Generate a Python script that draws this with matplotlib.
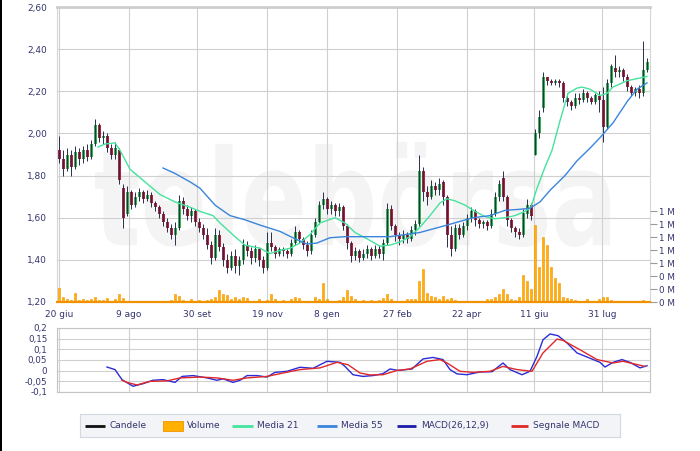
import numpy as np
import matplotlib.pyplot as plt
import matplotlib.transforms as mtransforms
from matplotlib.patches import Rectangle, PathPatch
from matplotlib.textpath import TextPath
from matplotlib.font_manager import FontProperties

# x axis is counted in trading days from 20 giu
tick_days = [0, 35, 69, 104, 134, 169, 204, 237.5, 271.5]
tick_labels = ['20 giu', '9 ago', '30 set', '19 nov', '8 gen', '27 feb', '22 apr', '11 giu', '31 lug']

# one candle every second trading day
opens = [1.92, 1.88, 1.83, 1.90, 1.84, 1.91, 1.88, 1.92, 1.89, 1.95,
         2.04, 1.98, 1.99, 1.93, 1.90, 1.92, 1.74, 1.62, 1.72, 1.66,
         1.70, 1.72, 1.69, 1.71, 1.67, 1.65, 1.62, 1.58, 1.55, 1.52,
         1.55, 1.68, 1.64, 1.61, 1.63, 1.58, 1.55, 1.52, 1.47, 1.41,
         1.52, 1.46, 1.40, 1.36, 1.42, 1.37, 1.40, 1.47, 1.44, 1.41,
         1.45, 1.40, 1.36, 1.48, 1.46, 1.43, 1.45, 1.44, 1.43, 1.48,
         1.53, 1.50, 1.47, 1.44, 1.52, 1.58, 1.66, 1.69, 1.64, 1.66,
         1.63, 1.65, 1.56, 1.48, 1.42, 1.44, 1.41, 1.43, 1.45, 1.42,
         1.45, 1.43, 1.48, 1.64, 1.56, 1.52, 1.50, 1.52, 1.50, 1.54,
         1.57, 1.82, 1.72, 1.70, 1.75, 1.73, 1.77, 1.70, 1.52, 1.45,
         1.55, 1.52, 1.56, 1.60, 1.63, 1.59, 1.57, 1.58, 1.56, 1.62,
         1.70, 1.79, 1.70, 1.59, 1.55, 1.53, 1.52, 1.62, 1.66, 1.90,
         2.00, 2.12, 2.27, 2.25, 2.24, 2.25, 2.24, 2.17, 2.15, 2.13,
         2.17, 2.16, 2.19, 2.17, 2.15, 2.18, 2.16, 2.03, 2.24, 2.31,
         2.29, 2.30, 2.27, 2.22, 2.19, 2.21, 2.19, 2.30]
closes = [1.88, 1.83, 1.90, 1.84, 1.91, 1.88, 1.92, 1.89, 1.95, 2.04,
          1.98, 1.99, 1.93, 1.90, 1.93, 1.78, 1.60, 1.72, 1.66, 1.70,
          1.72, 1.69, 1.71, 1.67, 1.65, 1.62, 1.58, 1.55, 1.52, 1.55,
          1.68, 1.64, 1.61, 1.63, 1.58, 1.55, 1.52, 1.47, 1.41, 1.52,
          1.46, 1.40, 1.36, 1.42, 1.37, 1.40, 1.47, 1.44, 1.41, 1.45,
          1.40, 1.36, 1.48, 1.46, 1.43, 1.45, 1.44, 1.43, 1.48, 1.53,
          1.50, 1.47, 1.44, 1.52, 1.58, 1.66, 1.69, 1.64, 1.66, 1.63,
          1.65, 1.56, 1.48, 1.42, 1.44, 1.41, 1.43, 1.45, 1.42, 1.45,
          1.43, 1.48, 1.64, 1.56, 1.52, 1.50, 1.52, 1.50, 1.54, 1.57,
          1.82, 1.72, 1.70, 1.75, 1.73, 1.76, 1.70, 1.52, 1.45, 1.55,
          1.52, 1.56, 1.60, 1.63, 1.59, 1.57, 1.58, 1.56, 1.62, 1.70,
          1.76, 1.70, 1.59, 1.55, 1.53, 1.52, 1.62, 1.66, 1.61, 2.00,
          2.08, 2.27, 2.25, 2.24, 2.25, 2.24, 2.17, 2.15, 2.13, 2.17,
          2.16, 2.19, 2.17, 2.15, 2.18, 2.16, 2.03, 2.24, 2.32, 2.29,
          2.30, 2.27, 2.22, 2.19, 2.21, 2.19, 2.30, 2.34]
highs = [1.99, 1.92, 1.93, 1.92, 1.94, 1.93, 1.94, 1.95, 1.97, 2.07,
         2.05, 2.01, 2.00, 1.95, 1.96, 1.93, 1.76, 1.75, 1.73, 1.72,
         1.74, 1.73, 1.73, 1.72, 1.68, 1.66, 1.63, 1.60, 1.57, 1.58,
         1.71, 1.70, 1.66, 1.65, 1.64, 1.60, 1.57, 1.55, 1.49, 1.55,
         1.54, 1.48, 1.43, 1.44, 1.45, 1.42, 1.50, 1.49, 1.46, 1.47,
         1.46, 1.42, 1.53, 1.53, 1.47, 1.46, 1.46, 1.45, 1.50, 1.56,
         1.54, 1.51, 1.49, 1.54, 1.60, 1.68, 1.72, 1.70, 1.68, 1.67,
         1.67, 1.66, 1.57, 1.49, 1.46, 1.45, 1.45, 1.47, 1.46, 1.47,
         1.47, 1.50, 1.67, 1.66, 1.57, 1.53, 1.54, 1.53, 1.56, 1.59,
         1.90, 1.84, 1.75, 1.78, 1.77, 1.79, 1.78, 1.71, 1.56, 1.57,
         1.57, 1.58, 1.62, 1.65, 1.64, 1.60, 1.59, 1.59, 1.64, 1.72,
         1.78, 1.82, 1.71, 1.60, 1.56, 1.55, 1.64, 1.69, 1.67, 2.02,
         2.11, 2.29, 2.27, 2.26, 2.26, 2.26, 2.25, 2.19, 2.16, 2.19,
         2.19, 2.21, 2.20, 2.18, 2.19, 2.20, 2.22, 2.26, 2.33, 2.37,
         2.32, 2.31, 2.28, 2.23, 2.22, 2.23, 2.44, 2.36]
lows = [1.86, 1.80, 1.82, 1.80, 1.83, 1.85, 1.86, 1.87, 1.88, 1.94,
        1.96, 1.95, 1.91, 1.88, 1.88, 1.76, 1.55, 1.61, 1.64, 1.65,
        1.68, 1.67, 1.68, 1.65, 1.63, 1.60, 1.56, 1.53, 1.50, 1.47,
        1.54, 1.62, 1.59, 1.58, 1.56, 1.53, 1.50, 1.45, 1.38, 1.40,
        1.44, 1.37, 1.34, 1.35, 1.34, 1.33, 1.38, 1.42, 1.38, 1.39,
        1.37, 1.34, 1.35, 1.44, 1.41, 1.42, 1.42, 1.41, 1.42, 1.47,
        1.48, 1.45, 1.42, 1.43, 1.51, 1.57, 1.64, 1.62, 1.62, 1.61,
        1.61, 1.54, 1.45, 1.39, 1.40, 1.39, 1.40, 1.41, 1.40, 1.41,
        1.41, 1.40, 1.47, 1.54, 1.49, 1.47, 1.48, 1.48, 1.49, 1.52,
        1.56, 1.68, 1.66, 1.69, 1.71, 1.71, 1.66, 1.46, 1.42, 1.44,
        1.50, 1.51, 1.54, 1.58, 1.56, 1.55, 1.55, 1.54, 1.55, 1.61,
        1.68, 1.68, 1.56, 1.53, 1.51, 1.50, 1.51, 1.60, 1.59, 1.90,
        1.98, 2.10, 2.23, 2.23, 2.23, 2.22, 2.15, 2.13, 2.11, 2.12,
        2.14, 2.15, 2.15, 2.14, 2.14, 2.10, 1.96, 2.02, 2.22, 2.27,
        2.27, 2.25, 2.20, 2.18, 2.18, 2.17, 2.18, 2.29]
# volume, millions of shares
volumes = [0.22, 0.08, 0.05, 0.03, 0.14, 0.03, 0.04, 0.03, 0.05, 0.07,
           0.03, 0.03, 0.06, 0.02, 0.04, 0.12, 0.06, 0.02, 0.01, 0.01,
           0.01, 0.02, 0.01, 0.01, 0.02, 0.01, 0.01, 0.02, 0.03, 0.12,
           0.10, 0.03, 0.02, 0.05, 0.02, 0.03, 0.02, 0.03, 0.04, 0.08,
           0.18, 0.12, 0.11, 0.04, 0.07, 0.04, 0.07, 0.06, 0.02, 0.02,
           0.04, 0.02, 0.03, 0.12, 0.05, 0.02, 0.03, 0.02, 0.05, 0.08,
           0.06, 0.02, 0.02, 0.02, 0.07, 0.04, 0.30, 0.04, 0.02, 0.02,
           0.03, 0.08, 0.18, 0.10, 0.04, 0.02, 0.03, 0.02, 0.03, 0.02,
           0.03, 0.06, 0.13, 0.04, 0.02, 0.02, 0.02, 0.04, 0.05, 0.04,
           0.33, 0.51, 0.14, 0.09, 0.07, 0.05, 0.09, 0.05, 0.06, 0.03,
           0.02, 0.02, 0.02, 0.01, 0.02, 0.02, 0.02, 0.04, 0.04, 0.07,
           0.12, 0.20, 0.12, 0.05, 0.03, 0.07, 0.42, 0.32, 0.20, 1.18,
           0.54, 1.00, 0.88, 0.54, 0.37, 0.30, 0.08, 0.06, 0.04, 0.03,
           0.02, 0.02, 0.05, 0.02, 0.02, 0.05, 0.07, 0.08, 0.03, 0.02,
           0.02, 0.01, 0.01, 0.01, 0.01, 0.01, 0.03, 0.02]

# moving averages
ma21_days = [19.5, 23, 28, 30.5, 35.5, 43, 50.5, 58, 65.5, 70.5, 77, 80.5, 88, 93,
             100.5, 105.5, 110.5, 115.5, 120.5, 125.5, 130.5, 138, 143, 148, 154,
             160.5, 165.5, 170.5, 175.5, 180.5, 185.5, 190.5, 194, 198, 203, 208,
             213, 218, 223, 228, 233, 236, 239, 243, 246.5, 250.5, 254.5, 259,
             261.5, 265.5, 270.5, 274, 277, 284, 289, 294]
ma21_vals = [1.935, 1.95, 1.955, 1.92, 1.83, 1.77, 1.71, 1.675, 1.65, 1.63, 1.61, 1.575,
             1.51, 1.47, 1.455, 1.43, 1.445, 1.455, 1.48, 1.52, 1.575, 1.60, 1.575,
             1.53, 1.50, 1.465, 1.47, 1.485, 1.51, 1.555, 1.61, 1.67, 1.69, 1.68,
             1.66, 1.63, 1.605, 1.595, 1.60, 1.61, 1.63, 1.65, 1.74, 1.84, 1.92,
             2.06, 2.19, 2.215, 2.22, 2.21, 2.18, 2.19, 2.22, 2.25, 2.26, 2.27]
ma55_days = [52, 58, 65.5, 70.5, 78, 85.5, 93, 100.5, 110.5, 118, 124, 129, 135.5,
             143, 165.5, 180.5, 194, 207, 215.5, 223, 230.5, 235.5, 240.5, 245.5,
             253, 259, 265.5, 270.5, 277, 284, 289, 294]
ma55_vals = [1.836, 1.81, 1.77, 1.74, 1.66, 1.61, 1.59, 1.565, 1.535, 1.50, 1.475,
             1.48, 1.505, 1.51, 1.51, 1.53, 1.565, 1.60, 1.61, 1.635, 1.64, 1.645,
             1.675, 1.73, 1.80, 1.87, 1.93, 1.98, 2.05, 2.15, 2.21, 2.24]

# MACD panel
macd_days = [24, 28, 31.5, 37, 42, 47, 52, 58, 61.5, 67, 74, 79, 82, 87, 90.5, 94, 99,
             104, 108, 114, 120.5, 127, 134, 140.5, 143, 147, 152, 157, 162, 165.5,
             169.5, 176.5, 182, 187, 192, 195.5, 199, 204, 210.5, 216.5, 222, 225.5,
             231.5, 235.5, 239, 242, 245.5, 249.5, 254, 259, 264, 270.5, 273, 277,
             281.5, 285.5, 290.5, 294]
macd_vals = [0.017, 0.005, -0.042, -0.073, -0.061, -0.045, -0.042, -0.055, -0.027,
             -0.023, -0.034, -0.045, -0.038, -0.055, -0.045, -0.023, -0.023, -0.030,
             -0.008, -0.003, 0.016, 0.011, 0.044, 0.039, 0.02, -0.019, -0.027, -0.023,
             -0.014, 0.008, 0.001, 0.008, 0.055, 0.062, 0.052, 0.005, -0.015, -0.019,
             -0.006, -0.005, 0.036, 0.005, -0.019, -0.003, 0.067, 0.145, 0.172, 0.164,
             0.130, 0.083, 0.064, 0.039, 0.017, 0.039, 0.052, 0.039, 0.013, 0.023]
signal_days = [31.5, 34, 39, 45.5, 54, 60.5, 70.5, 79, 87, 94, 104, 112, 120.5, 130.5,
               139, 144.5, 150.5, 155.5, 162, 169, 175.5, 184, 190.5, 194, 200.5, 207,
               215.5, 222, 229, 236.5, 242, 249, 252, 260.5, 269, 277, 282, 287, 293]
signal_vals = [-0.045, -0.055, -0.067, -0.05, -0.048, -0.034, -0.030, -0.034, -0.045,
               -0.034, -0.027, -0.011, 0.005, 0.013, 0.039, 0.028, -0.011, -0.02, -0.019,
               0.001, 0.008, 0.044, 0.052, 0.036, -0.003, -0.008, -0.003, 0.02, 0.005,
               -0.003, 0.083, 0.148, 0.142, 0.098, 0.052, 0.036, 0.044, 0.033, 0.02]

price_ticks = [1.2, 1.4, 1.6, 1.8, 2.0, 2.2, 2.4, 2.6]
vol_ticks = [0, 0.2, 0.4, 0.6, 0.8, 1.0, 1.2, 1.4]
macd_ticks = [-0.1, -0.05, 0, 0.05, 0.1, 0.15, 0.2]

NAVY = '#34346e'
GRID = '#d0d0d0'
W, H = 700, 451

fig = plt.figure(figsize=(7, 4.51), dpi=100)
fig.patch.set_facecolor('white')

# background axes in pixel units, used for the watermark
ax_bg = fig.add_axes([0, 0, 1, 1])
ax_bg.set_xlim(0, W)
ax_bg.set_ylim(H, 0)
ax_bg.axis('off')
ax_bg.set_zorder(0)
wm = TextPath((0, 0), 'telebörsa', size=100,
              prop=FontProperties(family='DejaVu Sans', weight='bold'))
bb = wm.get_extents()
tr = (mtransforms.Affine2D().translate(-bb.x0, -bb.y0)
      .scale(515 / bb.width, -105 / bb.height).translate(95, 247) + ax_bg.transData)
ax_bg.add_patch(PathPatch(wm, transform=tr, facecolor='#f4f4f4', edgecolor='none'))


def px_axes(x0, y0, x1, y1):
    return fig.add_axes([x0 / W, 1 - y1 / H, (x1 - x0) / W, (y1 - y0) / H])


days = np.arange(len(closes)) * 2
o = np.array(opens)
c = np.array(closes)

# price panel
ax = px_axes(57, 7, 650, 302)
ax.set_zorder(1)
ax.set_facecolor('none')
ax.set_xlim(-1, 295.5)
ax.set_ylim(1.2, 2.6)
ax.set_xticks(tick_days, tick_labels)
ax.set_yticks(price_ticks, [f'{v:.2f}'.replace('.', ',') for v in price_ticks])
ax.grid(color=GRID, lw=0.8)
ax.set_axisbelow(True)
ax.tick_params(length=0, labelsize=6.5, labelcolor=NAVY)
ax.tick_params(axis='y', pad=7)
ax.tick_params(axis='x', pad=6)
for s in ['left', 'right']:
    ax.spines[s].set_color('#d6d6d6')
ax.spines['top'].set_color('#cdcdcd')
ax.spines['top'].set_linewidth(2)
ax.spines['bottom'].set_visible(False)

up = c >= o
body_lo = np.minimum(o, c)
body_h = np.maximum(np.abs(c - o), 0.005)
ax.bar(days, body_h, bottom=body_lo, width=1.5,
       color=np.where(up, '#35b055', '#b0203f'), linewidth=0, zorder=3)
ax.vlines(days, lows, highs, color='#283048', lw=0.7, zorder=4)
ax.plot(ma21_days, ma21_vals, color='#45e39e', lw=1.0, zorder=5)
ax.plot(ma55_days, ma55_vals, color='#3a85dc', lw=1.0, zorder=5)

# volume on the right scale of the price panel
ax2 = ax.twinx()
ax2.bar(days, np.array(volumes) * 1e6, width=1.2, color='#ffb000',
        edgecolor='#f39200', linewidth=0.4, zorder=2)
ax2.axhline(0, color='#f39200', lw=1.6, clip_on=False)
ax2.set_ylim(0, 4.54e6)
ax2.set_yticks([v * 1e6 for v in vol_ticks], [f'{v:.0f} M' for v in vol_ticks])
ax2.tick_params(axis='y', length=5, width=0.8, color='#9a9a9a', pad=1.5,
                labelsize=6.3, labelcolor=NAVY)
for s in ax2.spines.values():
    s.set_visible(False)

# MACD panel
ax3 = px_axes(57, 328, 650, 392)
ax3.set_zorder(1)
ax3.set_xlim(-1, 295.5)
ax3.set_ylim(-0.1, 0.2)
ax3.set_xticks(tick_days, [''] * len(tick_days))
ax3.set_yticks(macd_ticks, [f'{v:g}'.replace('.', ',') for v in macd_ticks])
ax3.grid(color=GRID, lw=0.8)
ax3.set_axisbelow(True)
ax3.tick_params(length=0, labelsize=6.3, labelcolor=NAVY, pad=7)
for s in ax3.spines.values():
    s.set_color('#c4c4c4')
ax3.plot(macd_days, macd_vals, color='#2b2bd8', lw=1.0, zorder=3)
ax3.plot(signal_days, signal_vals, color='#e02828', lw=1.0, zorder=4)

# legend strip
axl = px_axes(80, 414, 620, 437)
axl.set_xlim(80, 620)
axl.set_ylim(437, 414)
axl.set_facecolor('#f3f4f7')
axl.set_xticks([])
axl.set_yticks([])
for s in axl.spines.values():
    s.set_color('#d4d8e0')
ly = 425.5
items = [('line', 85, 105, '#111111', 110, 'Candele'),
         ('box', 163, 183, '#ffb000', 187, 'Volume'),
         ('line', 232, 253, '#45e39e', 257, 'Media 21'),
         ('line', 317, 337, '#3a85dc', 341, 'Media 55'),
         ('line', 397, 416, '#1c1ca8', 421, 'MACD(26,12,9)'),
         ('line', 511, 528, '#e02828', 533, 'Segnale MACD')]
for kind, x0, x1, col, tx, label in items:
    if kind == 'line':
        axl.plot([x0, x1], [ly, ly], color=col, lw=2, solid_capstyle='butt')
    else:
        axl.add_patch(Rectangle((x0, ly - 5), x1 - x0, 10, facecolor=col,
                                edgecolor='#f39200', lw=0.6))
    axl.text(tx, ly, label, va='center', ha='left', fontsize=6.5, color=NAVY)

# dark strip on the left border of the screenshot
fig.add_artist(Rectangle((0, 0), 2 / W, 1, transform=fig.transFigure,
                         facecolor='black', edgecolor='none'))

fig.savefig('out.png', dpi=100)
